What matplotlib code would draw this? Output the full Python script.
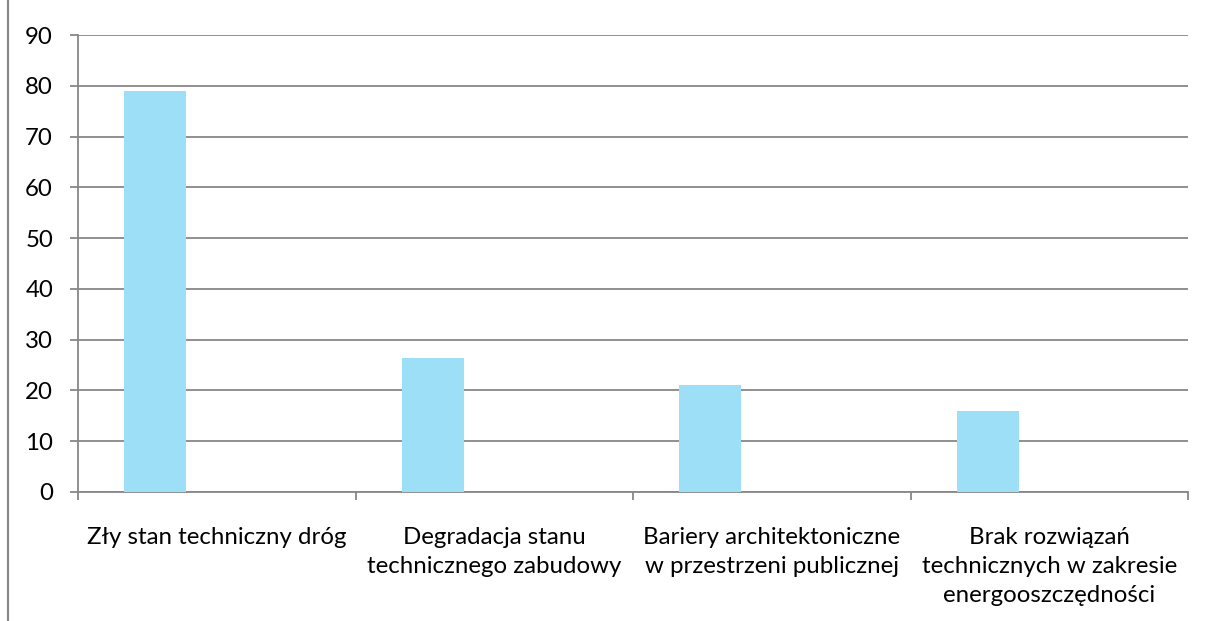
import matplotlib.pyplot as plt
from matplotlib.lines import Line2D

categories = [
    "Zły stan techniczny dróg",
    "Degradacja stanu\ntechnicznego zabudowy",
    "Bariery architektoniczne\nw przestrzeni publicznej",
    "Brak rozwiązań\ntechnicznych w zakresie\nenergooszczędności",
]
values = [79, 26.3, 21.1, 15.9]
yticks = list(range(0, 100, 10))

plt.rcParams["font.family"] = ["Lato", "DejaVu Sans"]
grey = "#878787"

fig = plt.figure(figsize=(12.15, 6.21), dpi=100)
ax = fig.add_axes([78 / 1215, 129 / 621, 1110 / 1215, 457 / 621])

# bars sit left of the slot centre, as in the original two-series layout
pos = [i - 0.222 for i in range(len(values))]
ax.bar(pos, values, width=0.224, color="#9DDFF6", zorder=3)

ax.set_xlim(-0.5, len(categories) - 0.5)
ax.set_ylim(0, 90)
ax.set_yticks(yticks)
ax.yaxis.grid(True, color=grey, linewidth=1.3, zorder=0)

ax.set_xticks([i + 0.5 for i in range(-1, len(categories))])
ax.set_xticklabels([])
ax.set_xticks(range(len(categories)), minor=True)
ax.set_xticklabels(categories, minor=True, fontsize=17.3, linespacing=1.48)
ax.tick_params(axis="x", which="minor", length=0, pad=25)
ax.tick_params(axis="x", which="major", length=6, width=1.3, color=grey)
ax.tick_params(axis="y", length=6, width=1.3, color=grey, labelsize=17.3, pad=12)

for side in ["top", "right"]:
    ax.spines[side].set_visible(False)
for side in ["left", "bottom"]:
    ax.spines[side].set_color(grey)
    ax.spines[side].set_linewidth(1.3)

fig.add_artist(Line2D([8 / 1215, 8 / 1215], [0, 1], color=grey, linewidth=1.5,
                      transform=fig.transFigure))

fig.savefig("out.png", dpi=100)
